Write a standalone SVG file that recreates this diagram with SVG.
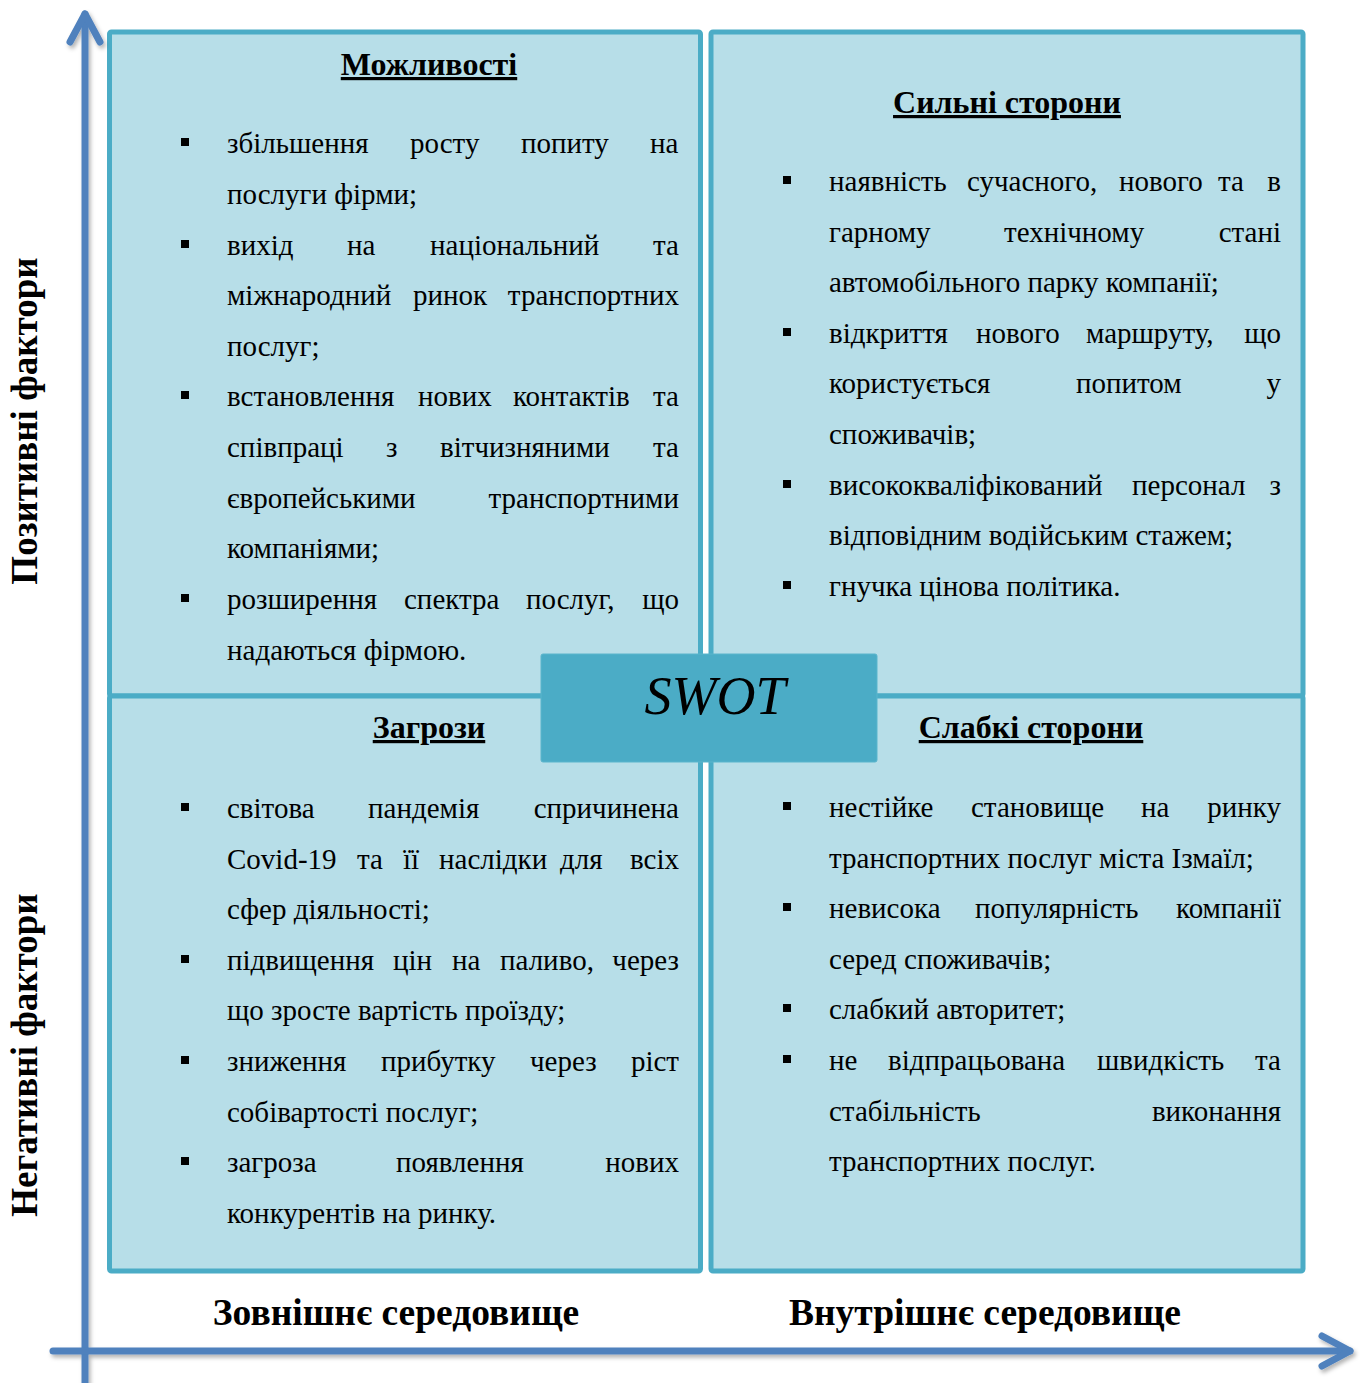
<svg xmlns="http://www.w3.org/2000/svg" width="1362" height="1383" viewBox="0 0 1362 1383">
<style>
.box{fill:#B7DEE8;stroke:#4BACC6;stroke-width:5}
.t{font-family:"Liberation Serif","Times New Roman",serif;font-size:29px;fill:#000}
.e{text-anchor:end}
.h{font-family:"Liberation Serif","Times New Roman",serif;font-size:32px;font-weight:bold;text-decoration:underline;text-anchor:middle;fill:#000}
.lab{font-family:"Liberation Serif","Times New Roman",serif;font-size:37.5px;font-weight:bold;text-anchor:middle;fill:#000}
.vl{font-size:37px}
.ax{fill:none;stroke:#4F81BD;stroke-width:7;stroke-linecap:round;stroke-linejoin:round}
.b{fill:#000}
</style>
<defs>
<filter id="sh" x="-10%" y="-10%" width="120%" height="120%">
<feDropShadow dx="2" dy="3" stdDeviation="2" flood-color="#000" flood-opacity="0.3"/>
</filter>
</defs>

<g id="q-opportunities">
<rect class="box" x="109.5" y="32" width="591" height="664" rx="2"/>
<text class="h" x="429" y="75">Можливості</text>
<rect class="b" x="181" y="138" width="8" height="8"/>
<text class="t" y="153"><tspan x="227">збільшення</tspan><tspan x="410">росту</tspan><tspan x="521">попиту</tspan><tspan x="650">на</tspan></text>
<text class="t" x="227" y="204">послуги фірми;</text>
<rect class="b" x="181" y="240" width="8" height="8"/>
<text class="t" y="254.5"><tspan x="227">вихід</tspan><tspan x="347">на</tspan><tspan x="430">національний</tspan></text>
<text class="t e" x="679" y="254.5">та</text>
<text class="t" x="227" y="305">міжнародний</text>
<text class="t" x="413" y="305">ринок</text>
<text class="t e" x="679" y="305">транспортних</text>
<text class="t" x="227" y="356">послуг;</text>
<rect class="b" x="181" y="391" width="8" height="8"/>
<text class="t" x="227" y="406">встановлення</text>
<text class="t" x="418" y="406">нових</text>
<text class="t" x="513" y="406">контактів</text>
<text class="t e" x="679" y="406">та</text>
<text class="t" x="227" y="457">співпраці</text>
<text class="t" x="386" y="457">з</text>
<text class="t" x="440" y="457">вітчизняними</text>
<text class="t e" x="679" y="457">та</text>
<text class="t" x="227" y="508">європейськими</text>
<text class="t e" x="679" y="508">транспортними</text>
<text class="t" x="227" y="558">компаніями;</text>
<rect class="b" x="181" y="594" width="8" height="8"/>
<text class="t" x="227" y="609">розширення</text>
<text class="t" x="404" y="609">спектра</text>
<text class="t" x="526" y="609">послуг,</text>
<text class="t e" x="679" y="609">що</text>
<text class="t" x="227" y="659.5">надаються фірмою.</text>
</g>

<g id="q-strengths">
<rect class="box" x="711" y="32" width="592" height="664" rx="2"/>
<text class="h" x="1007" y="113">Сильні сторони</text>
<rect class="b" x="783" y="176" width="8" height="8"/>
<text class="t" x="829" y="191">наявність</text>
<text class="t" x="967" y="191">сучасного,</text>
<text class="t" x="1119" y="191">нового</text>
<text class="t" x="1218" y="191">та</text>
<text class="t e" x="1281" y="191">в</text>
<text class="t" x="829" y="241.6">гарному</text>
<text class="t" x="1004" y="241.6">технічному</text>
<text class="t e" x="1281" y="241.6">стані</text>
<text class="t" x="829" y="292.2">автомобільного парку компанії;</text>
<rect class="b" x="783" y="328" width="8" height="8"/>
<text class="t" x="829" y="342.8">відкриття</text>
<text class="t" x="976" y="342.8">нового</text>
<text class="t" x="1086" y="342.8">маршруту,</text>
<text class="t e" x="1281" y="342.8">що</text>
<text class="t" x="829" y="393.4">користується</text>
<text class="t" x="1076" y="393.4">попитом</text>
<text class="t e" x="1281" y="393.4">у</text>
<text class="t" x="829" y="444">споживачів;</text>
<rect class="b" x="783" y="480" width="8" height="8"/>
<text class="t" x="829" y="494.6">висококваліфікований</text>
<text class="t" x="1132" y="494.6">персонал</text>
<text class="t e" x="1281" y="494.6">з</text>
<text class="t" x="829" y="545.2">відповідним водійським стажем;</text>
<rect class="b" x="783" y="581" width="8" height="8"/>
<text class="t" x="829" y="595.8">гнучка цінова політика.</text>
</g>

<g id="q-threats">
<rect class="box" x="109.5" y="696" width="591" height="575" rx="2"/>
<text class="h" x="429" y="738">Загрози</text>
<rect class="b" x="181" y="803" width="8" height="8"/>
<text class="t" x="227" y="818">світова</text>
<text class="t" x="368" y="818">пандемія</text>
<text class="t e" x="679" y="818">спричинена</text>
<text class="t" x="227" y="868.6">Covid-19</text>
<text class="t" x="357" y="868.6">та</text>
<text class="t" x="403" y="868.6">її</text>
<text class="t" x="439" y="868.6">наслідки</text>
<text class="t" x="560" y="868.6">для</text>
<text class="t e" x="679" y="868.6">всіх</text>
<text class="t" x="227" y="919.2">сфер діяльності;</text>
<rect class="b" x="181" y="955" width="8" height="8"/>
<text class="t" x="227" y="969.8">підвищення</text>
<text class="t" x="393" y="969.8">цін</text>
<text class="t" x="452" y="969.8">на</text>
<text class="t" x="500" y="969.8">паливо,</text>
<text class="t e" x="679" y="969.8">через</text>
<text class="t" x="227" y="1020.4">що зросте вартість проїзду;</text>
<rect class="b" x="181" y="1056" width="8" height="8"/>
<text class="t" x="227" y="1071">зниження</text>
<text class="t" x="381" y="1071">прибутку</text>
<text class="t" x="530" y="1071">через</text>
<text class="t e" x="679" y="1071">ріст</text>
<text class="t" x="227" y="1121.6">собівартості послуг;</text>
<rect class="b" x="181" y="1157" width="8" height="8"/>
<text class="t" x="227" y="1172.2">загроза</text>
<text class="t" x="396" y="1172.2">появлення</text>
<text class="t e" x="679" y="1172.2">нових</text>
<text class="t" x="227" y="1222.8">конкурентів на ринку.</text>
</g>

<g id="q-weaknesses">
<rect class="box" x="711" y="696" width="592" height="575" rx="2"/>
<text class="h" x="1031" y="738">Слабкі сторони</text>
<rect class="b" x="783" y="802" width="8" height="8"/>
<text class="t" x="829" y="817">нестійке</text>
<text class="t" x="971" y="817">становище</text>
<text class="t" x="1141" y="817">на</text>
<text class="t e" x="1281" y="817">ринку</text>
<text class="t" x="829" y="867.6">транспортних послуг міста Ізмаїл;</text>
<rect class="b" x="783" y="903" width="8" height="8"/>
<text class="t" x="829" y="918.2">невисока</text>
<text class="t" x="975" y="918.2">популярність</text>
<text class="t e" x="1281" y="918.2">компанії</text>
<text class="t" x="829" y="968.8">серед споживачів;</text>
<rect class="b" x="783" y="1004" width="8" height="8"/>
<text class="t" x="829" y="1019.4">слабкий авторитет;</text>
<rect class="b" x="783" y="1055" width="8" height="8"/>
<text class="t" x="829" y="1070">не</text>
<text class="t" x="888" y="1070">відпрацьована</text>
<text class="t" x="1097" y="1070">швидкість</text>
<text class="t e" x="1281" y="1070">та</text>
<text class="t" x="829" y="1120.6">стабільність</text>
<text class="t e" x="1281" y="1120.6">виконання</text>
<text class="t" x="829" y="1171.2">транспортних послуг.</text>
</g>

<g id="swot">
<rect x="541" y="654" width="336" height="108" rx="2" fill="#4BACC6" stroke="#5BB5CC" stroke-width="1"/>
<text x="715" y="714" font-family="Liberation Serif, serif" font-style="italic" font-size="54" text-anchor="middle" fill="#000">SWOT</text>
</g>

<g id="connectors" filter="url(#sh)">
<path class="ax" d="M85 1383 V14"/>
<path class="ax" d="M70 42 L85 14 L100 42"/>
<path class="ax" d="M53 1351 H1350"/>
<path class="ax" d="M1322 1336 L1350 1351 L1322 1366"/>
</g>

<g id="labels">
<text class="lab" x="396" y="1325">Зовнішнє середовище</text>
<text class="lab" x="985" y="1325">Внутрішнє середовище</text>
<text class="lab vl" transform="translate(37 421) rotate(-90)">Позитивні фактори</text>
<text class="lab vl" transform="translate(37 1055) rotate(-90)">Негативні фактори</text>
</g>
</svg>
